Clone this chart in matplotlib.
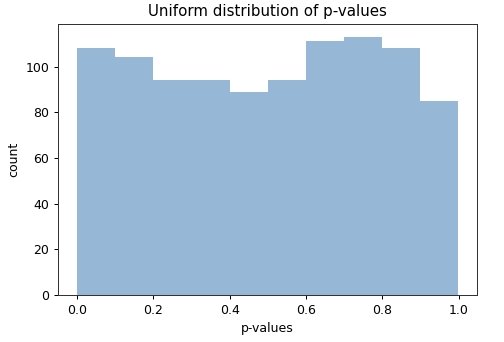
import matplotlib
matplotlib.use("Agg")
import matplotlib.pyplot as plt
import numpy as np

# histogram of p-values, 10 bins over [0, 1]
bin_edges = [0.0, 0.1, 0.2, 0.3, 0.4, 0.5, 0.6, 0.7, 0.8, 0.9, 0.9975]
counts = [108, 104, 94, 94, 89, 94, 111, 113, 108, 85]

DPI = 90
fig = plt.figure(figsize=(505 / DPI, 342 / DPI), dpi=DPI)
ax = fig.add_axes([0.115, 0.137, 0.829, 0.793])

centers = [(bin_edges[i] + bin_edges[i + 1]) / 2 for i in range(len(counts))]
ax.hist(centers, bins=bin_edges, weights=counts, color="#96b8d6", linewidth=0)

ax.set_title("Uniform distribution of p-values", fontsize=12)
ax.set_xlabel("p-values", fontsize=10)
ax.set_ylabel("count", fontsize=10)
ax.tick_params(labelsize=10)
for s in ax.spines.values():
    s.set_color("#333333")

fig.savefig("out.png", dpi=DPI)
